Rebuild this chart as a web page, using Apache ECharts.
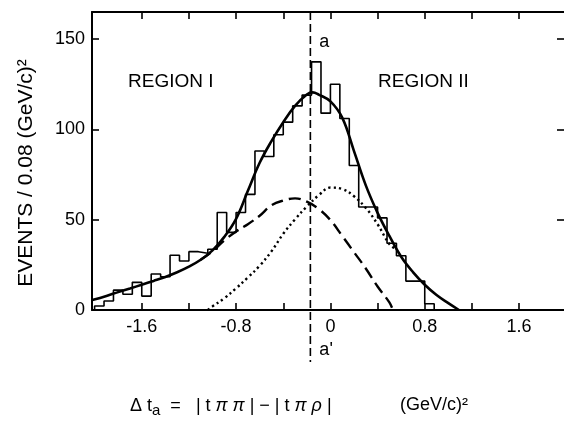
<!DOCTYPE html>
<html>
<head>
<meta charset="utf-8">
<script src="https://cdn.jsdelivr.net/npm/echarts@6/dist/echarts.min.js"></script>
<style>
  html, body { margin: 0; padding: 0; background: #fff; }
  #chart { width: 564px; height: 421px; }
</style>
</head>
<body>
<div id="chart"></div>
<script>
// histogram: events per 0.08 (GeV/c)^2 bin, first bin starts at -2.0
const binStart = -2.0
const binWidth = 0.08
const events = [2.2, 5, 11, 8.7, 15.3, 7.7, 19.9, 18.4, 30.3, 27.1, 32.3, 31.4, 33.6,
  54, 43, 54, 64, 88, 85, 97, 104, 113, 119, 137.4, 109, 125, 106, 80, 57, 57,
  51, 37, 30, 16, 16, 3.5]

// fitted curves
const totalX = [-2.02, -1.9, -1.8, -1.7, -1.6, -1.5, -1.4, -1.3, -1.2, -1.1, -1.0, -0.9, -0.8,
  -0.7, -0.6, -0.5, -0.4, -0.3, -0.2, -0.15, -0.1, 0, 0.1, 0.2, 0.3, 0.4, 0.5, 0.6, 0.7,
  0.8, 0.9, 1.0, 1.09]
const totalY = [5.5, 7.8, 9.9, 11.9, 14, 16.1, 18.3, 20.9, 24, 27.8, 33, 40.5, 50.5,
  66, 81.5, 93.5, 104, 113, 119.3, 120.5, 119.3, 115.5, 106.5, 88, 69, 53.8, 41, 29.5, 21,
  14, 8.3, 3.8, 0]

const dashX = [-1.1, -1.0, -0.9, -0.8, -0.7, -0.6, -0.5, -0.4, -0.3, -0.2, -0.1, 0, 0.1, 0.2,
  0.3, 0.4, 0.5, 0.53]
const dashY = [27.8, 32.5, 38.5, 43.5, 47.5, 52.2, 58, 60.6, 61.8, 60, 56, 49.8, 41, 32,
  23, 13, 4.2, 0]

const dotX = [-1.04, -1.0, -0.9, -0.8, -0.7, -0.6, -0.5, -0.4, -0.3, -0.2, -0.1, 0, 0.1, 0.2,
  0.3, 0.4, 0.5, 0.55]
const dotY = [0, 2, 6.5, 12, 18, 24.5, 32.5, 42.2, 50.2, 57.3, 63.5, 67.8, 67, 63,
  56.5, 47.5, 36.5, 34]

const lineA = -0.17 // position of the a - a' cut
const xTicks = [-1.6, -1.2, -0.8, -0.4, 0, 0.4, 0.8, 1.2, 1.6]
const xLabels = [-1.6, -0.8, 0, 0.8, 1.6]
const yTicks = [0, 50, 100, 150]

const font = 'Liberation Sans'
const xMin = -2.022, xMax = 1.981, yMax = 165

function pairs(xs, ys) {
  return xs.map((x, i) => [x, ys[i]])
}

// step outline of the histogram
const histData = [[binStart, 0]]
events.forEach((v, i) => histData.push([binStart + i * binWidth, v]))
histData.push([binStart + events.length * binWidth, 0])

const chart = echarts.init(document.getElementById('chart'))

const axisLine = { show: true, onZero: false, lineStyle: { color: '#000', width: 2 } }
const tick = { show: true, inside: true, length: 7, lineStyle: { color: '#000', width: 1.6 } }

chart.setOption({
  animation: false,
  backgroundColor: '#fff',
  grid: { left: 92, right: 0, top: 12, bottom: 111 },
  xAxis: [{
    type: 'value', position: 'bottom', min: xMin, max: xMax,
    axisLine: axisLine,
    axisTick: Object.assign({ customValues: xTicks }, tick),
    axisLabel: {
      customValues: xLabels, margin: 8, color: '#000', fontSize: 18, fontFamily: font,
      formatter: v => String(v)
    },
    splitLine: { show: false }
  }, {
    type: 'value', position: 'top', min: xMin, max: xMax,
    axisLine: axisLine,
    axisTick: Object.assign({ customValues: xTicks }, tick),
    axisLabel: { show: false },
    splitLine: { show: false }
  }],
  yAxis: [{
    type: 'value', position: 'left', min: 0, max: yMax,
    name: 'EVENTS / 0.08 (GeV/c)²',
    nameLocation: 'middle', nameRotate: 90, nameGap: 55,
    nameTextStyle: { color: '#000', fontSize: 21, fontFamily: font, padding: [0, 24, 0, 0] },
    axisLine: axisLine,
    axisTick: Object.assign({ customValues: yTicks }, tick),
    axisLabel: { customValues: yTicks, margin: 7, color: '#000', fontSize: 18, fontFamily: font },
    splitLine: { show: false }
  }, {
    type: 'value', position: 'right', min: 0, max: yMax,
    axisLine: { show: false, onZero: false },
    axisTick: Object.assign({ customValues: [50, 100, 150] }, tick),
    axisLabel: { show: false },
    splitLine: { show: false }
  }],
  series: [{
    name: 'events', type: 'line', step: 'end', data: histData, symbol: 'none',
    lineStyle: { color: '#000', width: 1.6 }, z: 2
  }, {
    name: 'dashed', type: 'line', smooth: 0.4, data: pairs(dashX, dashY), symbol: 'none',
    lineStyle: { color: '#000', width: 2.4, type: [12, 6] }, z: 3
  }, {
    name: 'dotted', type: 'line', smooth: 0.4, data: pairs(dotX, dotY), symbol: 'none',
    lineStyle: { color: '#000', width: 2.4, type: [2.2, 3.2] }, z: 3
  }, {
    name: 'fit', type: 'line', smooth: 0.4, data: pairs(totalX, totalY), symbol: 'none',
    lineStyle: { color: '#000', width: 2.6 }, z: 4
  }]
})

const cutX = chart.convertToPixel({ xAxisIndex: 0 }, lineA)
const frameTop = chart.convertToPixel({ yAxisIndex: 0 }, yMax)

chart.setOption({
  graphic: [{
    type: 'line', z: 10,
    shape: { x1: cutX, y1: frameTop, x2: cutX, y2: 362 },
    style: { stroke: '#000', lineWidth: 1.6, lineDash: [8, 4] }
  }, {
    type: 'text', x: cutX + 9, y: 42,
    style: { text: 'a', fill: '#000', font: '18px "Liberation Sans"', verticalAlign: 'middle' }
  }, {
    type: 'text', x: cutX + 9, y: 350,
    style: { text: "a'", fill: '#000', font: '18px "Liberation Sans"', verticalAlign: 'middle' }
  }, {
    type: 'text', x: 128, y: 82,
    style: { text: 'REGION I', fill: '#000', font: '19px "Liberation Sans"', verticalAlign: 'middle' }
  }, {
    type: 'text', x: 378, y: 82,
    style: { text: 'REGION II', fill: '#000', font: '19px "Liberation Sans"', verticalAlign: 'middle' }
  }, {
    type: 'text', x: 130, y: 406,
    style: {
      text: '{r|Δ t}{s|a}{r|  =   | t }{i|π π}{r| | − | t }{i|π ρ}{r| |}',
      verticalAlign: 'middle', fill: '#000',
      rich: {
        r: { fontSize: 18, fontFamily: font, lineHeight: 24, verticalAlign: 'middle' },
        s: { fontSize: 15, fontFamily: font, lineHeight: 24, verticalAlign: 'bottom' },
        i: { fontSize: 18, fontFamily: font, fontStyle: 'italic', lineHeight: 24, verticalAlign: 'middle' }
      }
    }
  }, {
    type: 'text', x: 400, y: 405,
    style: { text: '(GeV/c)²', fill: '#000', font: '18px "Liberation Sans"', verticalAlign: 'middle' }
  }]
})
</script>
</body>
</html>
